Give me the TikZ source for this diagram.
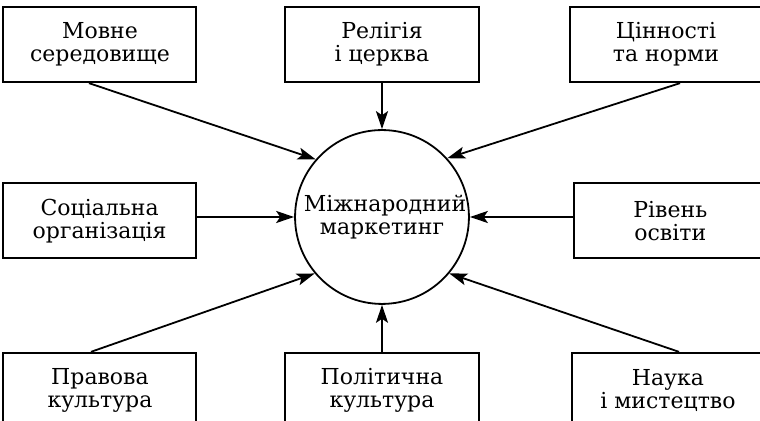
\documentclass[tikz,border=0pt]{standalone}
\usepackage{fontspec}
\setmainfont{DejaVu Serif}
\usetikzlibrary{positioning,arrows.meta}
\begin{document}
\begin{tikzpicture}
            [factor/.style = {draw, line width = 1pt, minimum width = 96.5pt, minimum height = 37.5pt,
                              align = center, font = \fontsize{11}{11.5}\selectfont},
             core/.style = {circle, draw, line width = 0.9pt, minimum size = 85pt, inner sep = 0pt,
                            align = center, font = \fontsize{11}{11.5}\selectfont},
             >={Stealth[length = 9pt, width = 6pt, inset = 2pt]}, line width = 0.9pt]
            \useasboundingbox (-191pt,-102pt) rectangle (189pt,108.5pt);
            \node[core] (mk) at (0,0) {\hspace*{3pt}Міжнародний\\маркетинг};
            \node[factor] (rel) [above = 23pt of mk] {Релігія\\і церква};
            \node[factor] (mov) [left = 43.5pt of rel] {Мовне\\середовище};
            \node[factor] (cin) [right = 44.5pt of rel] {Цінності\\та норми};
            \node[factor] (soc) [left = 48.5pt of mk, yshift = -2pt] {Соціальна\\організація};
            \node[factor] (riv) [right = 51.5pt of mk, yshift = -2pt] {Рівень\\освіти};
            \node[factor] (pol) [below = 23.5pt of mk] {Політична\\культура};
            \node[factor] (prav) [left = 43.5pt of pol] {Правова\\культура};
            \node[factor] (nauk) [right = 45.5pt of pol] {Наука\\і мистецтво};
            \draw[->] ([xshift = -5.5pt]mov.south) -- (mk.139);
            \draw[->] (rel.south) -- (mk.north);
            \draw[->] ([xshift = 7pt]cin.south) -- (mk.42);
            \draw[->] (soc.east |- mk.west) -- (mk.west);
            \draw[->] (riv.west |- mk.east) -- (mk.east);
            \draw[->] ([xshift = -4.5pt]prav.north) -- (mk.220);
            \draw[->] (pol.north) -- (mk.south);
            \draw[->] ([xshift = 5.5pt]nauk.north) -- (mk.320);
        \end{tikzpicture}
\end{document}
